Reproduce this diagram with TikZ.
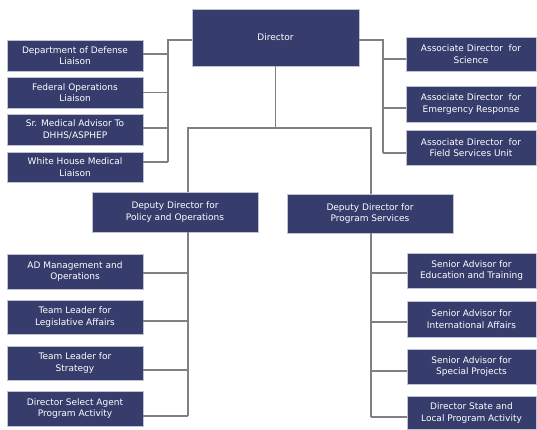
\documentclass[tikz,border=0pt]{standalone}
\usepackage{fontspec}
\setmainfont{DejaVu Sans}
\definecolor{boxfill}{RGB}{54,60,108}
\definecolor{boxedge}{RGB}{190,194,210}
\definecolor{linegray}{RGB}{128,128,128}
\begin{document}
\begin{tikzpicture}[x=1pt,y=-1pt,
  box/.style={draw=boxedge, line width=0.6pt, fill=boxfill, text=white, align=center,
    inner sep=0pt, font=\fontsize{9}{11.4}\selectfont},
  conn/.style={draw=linegray, line width=1.1pt}]
\useasboundingbox (0,0) rectangle (537,429);
% top level
\node[box, minimum width=167pt, minimum height=57pt] (dir) at (275.5,37.5) {Director};
% left liaisons
\node[box, minimum width=136pt, minimum height=31pt] (dod) at (75,55.5) {Department of Defense\\Liaison};
\node[box, minimum width=136pt, minimum height=31pt] (fed) at (75,92.5) {Federal Operations\\Liaison};
\node[box, minimum width=136pt, minimum height=31pt] (srm) at (75,129.5) {Sr. Medical Advisor To\\DHHS/ASPHEP};
\node[box, minimum width=136pt, minimum height=30pt] (whm) at (75,167) {White House Medical\\Liaison};
% right associates
\node[box, minimum width=130pt, minimum height=34pt] (sci) at (471,54) {Associate Director\ \ for\\Science};
\node[box, minimum width=130pt, minimum height=36pt] (emr) at (471,104) {Associate Director\ \ for\\Emergency Response};
\node[box, minimum width=130pt, minimum height=35pt] (fsu) at (471,147.5) {Associate Director\ \ for\\Field Services Unit};
% deputies
\node[box, minimum width=166pt, minimum height=40pt] (dpo) at (175,212) {Deputy Director for\\Policy and Operations};
\node[box, minimum width=166pt, minimum height=39pt] (dps) at (370,213.5) {Deputy Director for\\Program Services};
% lower left
\node[box, minimum width=136pt, minimum height=35pt] (adm) at (75,271.5) {AD Management and\\Operations};
\node[box, minimum width=136pt, minimum height=34pt] (tll) at (75,317) {Team Leader for\\Legislative Affairs};
\node[box, minimum width=136pt, minimum height=34pt] (tls) at (75,363) {Team Leader for\\Strategy};
\node[box, minimum width=136pt, minimum height=35pt] (dsa) at (75,408.5) {Director Select Agent\\Program Activity};
% lower right
\node[box, minimum width=129pt, minimum height=35pt] (sae) at (471.5,270.5) {Senior Advisor for\\Education and Training};
\node[box, minimum width=129pt, minimum height=36pt] (sai) at (471.5,319) {Senior Advisor for\\International Affairs};
\node[box, minimum width=129pt, minimum height=35pt] (sap) at (471.5,366.5) {Senior Advisor for\\Special Projects};
\node[box, minimum width=129pt, minimum height=33pt] (dsl) at (471.5,413) {Director State and\\Local Program Activity};
% bus coordinates
\coordinate (lbus) at (168,40);
\coordinate (rbus) at (383,40);
\coordinate (mid) at (275.5,128);
\coordinate (llbus) at (188,0);
\coordinate (lrbus) at (371,0);
% left liaison bus
\draw[conn] ([yshift=-2.5pt]dir.west) -- (lbus) -- ([yshift=5pt]whm.east -| lbus);
\draw[conn] ([yshift=1.5pt]dod.east) -- ([yshift=1.5pt]dod.east -| lbus);
\draw[conn] (fed.east) -- (fed.east -| lbus);
\draw[conn] ([yshift=1.5pt]srm.east) -- ([yshift=1.5pt]srm.east -| lbus);
\draw[conn] ([yshift=5pt]whm.east) -- ([yshift=5pt]whm.east -| lbus);
% right associate bus
\draw[conn] ([yshift=-2.5pt]dir.east) -- (rbus) -- ([yshift=-5.5pt]fsu.west -| rbus);
\draw[conn] ([yshift=-5pt]sci.west) -- ([yshift=-5pt]sci.west -| rbus);
\draw[conn] ([yshift=-4pt]emr.west) -- ([yshift=-4pt]emr.west -| rbus);
\draw[conn] ([yshift=-5.5pt]fsu.west) -- ([yshift=-5.5pt]fsu.west -| rbus);
% director to deputies
\draw[conn] (dir.south) -- (mid);
\draw[conn] (dpo.north -| llbus) |- (mid) -| (dps.north -| lrbus);
% lower left bus
\draw[conn] (dpo.south -| llbus) -- ([yshift=-7.5pt]dsa.east -| llbus);
\draw[conn] ([yshift=-1.5pt]adm.east) -- ([yshift=-1.5pt]adm.east -| llbus);
\draw[conn] ([yshift=-4pt]tll.east) -- ([yshift=-4pt]tll.east -| llbus);
\draw[conn] ([yshift=-7pt]tls.east) -- ([yshift=-7pt]tls.east -| llbus);
\draw[conn] ([yshift=-7.5pt]dsa.east) -- ([yshift=-7.5pt]dsa.east -| llbus);
% lower right bus
\draw[conn] (dps.south -| lrbus) -- ([yshift=-4pt]dsl.west -| lrbus);
\draw[conn] ([yshift=-2.5pt]sae.west) -- ([yshift=-2.5pt]sae.west -| lrbus);
\draw[conn] ([yshift=-3pt]sai.west) -- ([yshift=-3pt]sai.west -| lrbus);
\draw[conn] ([yshift=-4.5pt]sap.west) -- ([yshift=-4.5pt]sap.west -| lrbus);
\draw[conn] ([yshift=-4pt]dsl.west) -- ([yshift=-4pt]dsl.west -| lrbus);
\end{tikzpicture}
\end{document}
